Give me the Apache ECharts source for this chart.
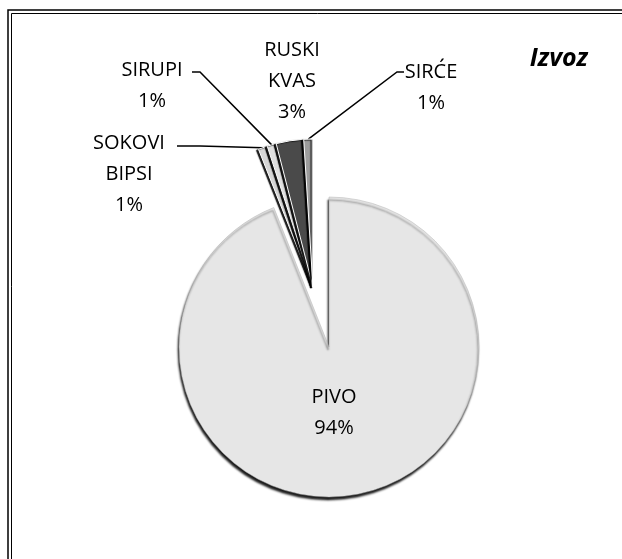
<!DOCTYPE html>
<html>
	<head>
		<meta charset="UTF-8">
		<title>Izvoz</title>
		<style>
			html, body { margin: 0; padding: 0; background: #fff; }
			#izvoz { width: 622px; height: 559px; }
		</style>
	</head>
	<body>
		<div id="izvoz"></div>
	</body>
	<script src="https://cdn.jsdelivr.net/npm/echarts@6/dist/echarts.min.js" type="text/javascript" charset="utf-8"></script>
	<script type="text/javascript">
		//podaci
		var categories = ['PIVO', 'SOKOVI\nBIPSI', 'SIRUPI', 'RUSKI\nKVAS', 'SIRĆE'];
		var values = [94, 1, 1, 3, 1];
		var sliceColors = ['#e6e6e6', '#d6d6d6', '#e0e0e0', '#4a4a4a', '#9c9c9c'];

		//pozicije labela (centar teksta) i kraj linije prema labeli
		var labelPos = [[334, 413], [129, 174], [152, 86], [292, 81], [431, 88]];
		var lineEnd = [null, [[177, 146], [200, 146]], [[192, 72], [200, 72]], null, [[404, 72], [397, 72]]];

		var chart = echarts.init(document.getElementById('izvoz'));
		var font = '"Open Sans", "Noto Sans", sans-serif';

		//isti podaci u obe serije, a svaka crta samo svoje kriske
		function buildData(big, style) {
			return categories.map(function (name, i) {
				var own = big ? i === 0 : i > 0;
				var itemStyle = own ? Object.assign({ color: sliceColors[i] }, style)
					: { color: 'rgba(0,0,0,0)', borderWidth: 0, shadowBlur: 0, shadowOffsetX: 0, shadowOffsetY: 0, shadowColor: 'rgba(0,0,0,0)' };
				return {
					name: name,
					value: values[i],
					itemStyle: itemStyle,
					label: { show: own },
					labelLine: { show: own && lineEnd[i] !== null }
				};
			});
		}

		function layout(params) {
			var p = labelPos[params.dataIndex];
			var res = { x: p[0], y: p[1], align: 'center', verticalAlign: 'middle' };
			var e = lineEnd[params.dataIndex];
			if (e && params.labelLinePoints) {
				res.labelLinePoints = [params.labelLinePoints[0], e[1], e[0]];
			}
			return res;
		}

		var labelStyle = {
			formatter: '{b}\n{d}%',
			fontFamily: font,
			fontSize: 20,
			lineHeight: 31,
			color: '#000'
		};

		var option = {
			animation: false,
			backgroundColor: '#fff',
			title: {
				text: 'Izvoz',
				right: 29,
				top: 41,
				textStyle: { fontFamily: font, fontSize: 25, fontWeight: 'bold', fontStyle: 'italic', color: '#000' }
			},
			graphic: [
				{ type: 'rect', shape: { x: 8, y: 10, width: 700, height: 700 }, style: { fill: 'none', stroke: '#000', lineWidth: 1.5 }, silent: true },
				{ type: 'rect', shape: { x: 11.5, y: 13.5, width: 700, height: 700 }, style: { fill: 'none', stroke: '#000', lineWidth: 1 }, silent: true }
			],
			series: [
				{
					type: 'pie',
					center: [329, 347],
					radius: 150,
					startAngle: 90,
					clockwise: true,
					silent: true,
					label: Object.assign({ position: 'inside' }, labelStyle),
					labelLayout: layout,
					data: buildData(true, { shadowColor: 'rgba(0,0,0,0.9)', shadowBlur: 2, shadowOffsetY: 3, shadowOffsetX: -1, borderColor: '#b0b0b0', borderWidth: 0.5 })
				},
				{
					type: 'pie',
					center: [313, 287],
					radius: 148,
					startAngle: 90,
					clockwise: true,
					silent: true,
					label: Object.assign({ position: 'outside' }, labelStyle),
					labelLine: { lineStyle: { color: '#000', width: 1.5 } },
					labelLayout: layout,
					data: buildData(false, { shadowColor: 'rgba(0,0,0,0.9)', shadowBlur: 1, shadowOffsetX: -2, shadowOffsetY: 1, borderColor: '#fff', borderWidth: 1 })
				}
			]
		};

		chart.setOption(option);
	</script>
</html>
